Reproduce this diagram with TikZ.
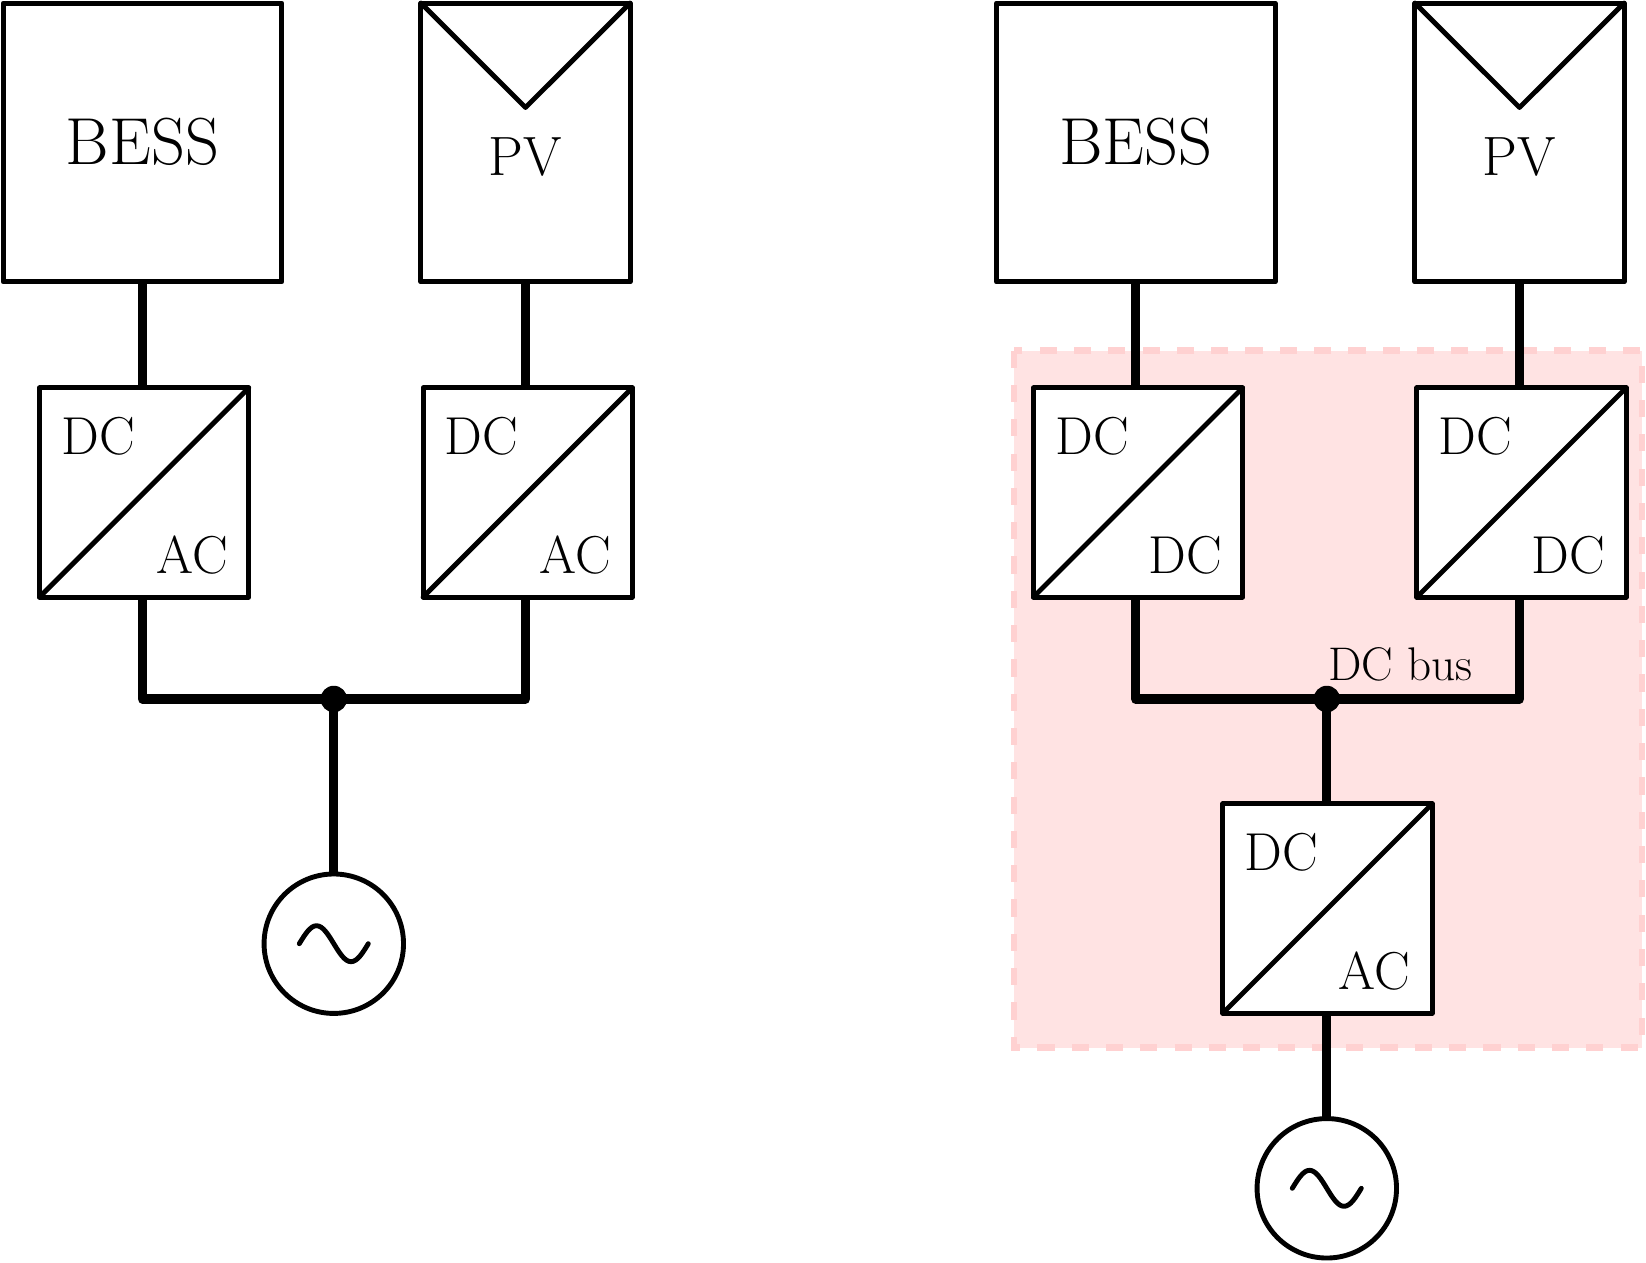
\documentclass[tikz,border=0pt]{standalone}
\usetikzlibrary{calc}
\tikzset{
  thinline/.style={line width=2pt,line join=round,line cap=round},
  wire/.style={line width=3.8pt,line join=round,line cap=butt},
  box/.style={draw,fill=white,thinline,rectangle,inner sep=0pt,outer sep=0pt},
  bessbox/.style={box,minimum width=4cm,minimum height=4cm},
  pvbox/.style={box,minimum width=3cm,minimum height=4cm},
  convbox/.style={box,minimum width=3cm,minimum height=3cm},
  grid/.style={draw,fill=white,thinline,circle,inner sep=0pt,outer sep=0pt,minimum size=2cm},
  joint/.style={fill=black,circle,inner sep=0pt,outer sep=0pt,minimum size=0.38cm},
  lbl/.style={anchor=base,inner sep=0pt,scale=1.05,font=\huge},
  pvlbl/.style={anchor=base,inner sep=0pt,scale=1.09,font=\huge},
  biglbl/.style={anchor=base,inner sep=0pt,scale=1.09,font=\Huge},
  buslbl/.style={anchor=base west,inner sep=0pt,scale=1.115,font=\LARGE},
  zone/.style={draw=red!18,fill=red!11,line width=2.8pt,dash pattern=on 7pt off 7pt}
}
\begin{document}
\begin{tikzpicture}[x=0.014347cm,y=-0.014347cm]
\useasboundingbox (0,0) rectangle (1646,1263);
\fill[white] (0,0) rectangle (1646,1263);

% shaded region
\path[zone] (1014,350.6) rectangle (1642,1047.6);

% LEFT
\node[bessbox] (b1) at (142.5,142.5) {};
\node[pvbox] (p1) at (525.5,142.5) {};
\node[convbox] (c1) at (144.2,492.5) {};
\node[convbox] (c2) at (527.7,492.5) {};
\node[grid] (g1) at (333.8,943.7) {};
\coordinate (t1) at (525.5,107.5);
\draw[thinline] (p1.north west) -- (t1) -- (p1.north east);
\draw[thinline] (c1.south west) -- (c1.north east);
\draw[thinline] (c2.south west) -- (c2.north east);
\draw[thinline] (g1.center) ++(-34.5,0) sin ++(17.25,-18) cos ++(17.25,18) sin ++(17.25,18) cos ++(17.25,-18);
\node[biglbl] (bl1) at (142.5,164.5) {BESS};
\node[pvlbl] (pl1) at (525.5,175.5) {PV};
\node[lbl] (d1) at (98.5,454) {DC};
\node[lbl] (a1) at (192,573) {AC};
\node[lbl] (d2) at (481.5,454) {DC};
\node[lbl] (a2) at (575,573) {AC};
\node[joint] (j1) at (333.8,699) {};
\draw[wire] (b1.south) -- (b1.south |- c1.north);
\draw[wire] (p1.south) -- (p1.south |- c2.north);
\draw[wire] (b1.south |- c1.south) -- (b1.south |- j1) -- (p1.south |- j1) -- (p1.south |- c2.south);
\draw[wire] (j1.center) -- (g1.north);

% RIGHT
\node[bessbox] (b2) at (1135.8,142.5) {};
\node[pvbox] (p2) at (1519.5,142.5) {};
\node[convbox] (c3) at (1138,492.5) {};
\node[convbox] (c4) at (1521.5,492.5) {};
\node[convbox] (c5) at (1327.5,908.5) {};
\node[grid] (g2) at (1326.8,1188.3) {};
\coordinate (t2) at (1519.5,107.5);
\draw[thinline] (p2.north west) -- (t2) -- (p2.north east);
\draw[thinline] (c3.south west) -- (c3.north east);
\draw[thinline] (c4.south west) -- (c4.north east);
\draw[thinline] (c5.south west) -- (c5.north east);
\draw[thinline] (g2.center) ++(-34.5,0) sin ++(17.25,-18) cos ++(17.25,18) sin ++(17.25,18) cos ++(17.25,-18);
\node[biglbl] (bl2) at (1135.8,164.5) {BESS};
\node[pvlbl] (pl2) at (1519.5,175.5) {PV};
\node[lbl] (d3) at (1092,454) {DC};
\node[lbl] (d4) at (1185,573) {DC};
\node[lbl] (d5) at (1475.5,454) {DC};
\node[lbl] (d6) at (1568.5,573) {DC};
\node[lbl] (d7) at (1281.5,870) {DC};
\node[lbl] (a3) at (1374.5,989.5) {AC};
\node[joint] (j2) at (1326.8,699) {};
\node[buslbl] (bus) at (1327.6,680.5) {DC bus};
\draw[wire] (b2.south) -- (b2.south |- c3.north);
\draw[wire] (p2.south) -- (p2.south |- c4.north);
\draw[wire] (b2.south |- c3.south) -- (b2.south |- j2) -- (p2.south |- j2) -- (p2.south |- c4.south);
\draw[wire] (j2.center) -- (j2 |- c5.north);
\draw[wire] (j2 |- c5.south) -- (g2.north);
\end{tikzpicture}
\end{document}
